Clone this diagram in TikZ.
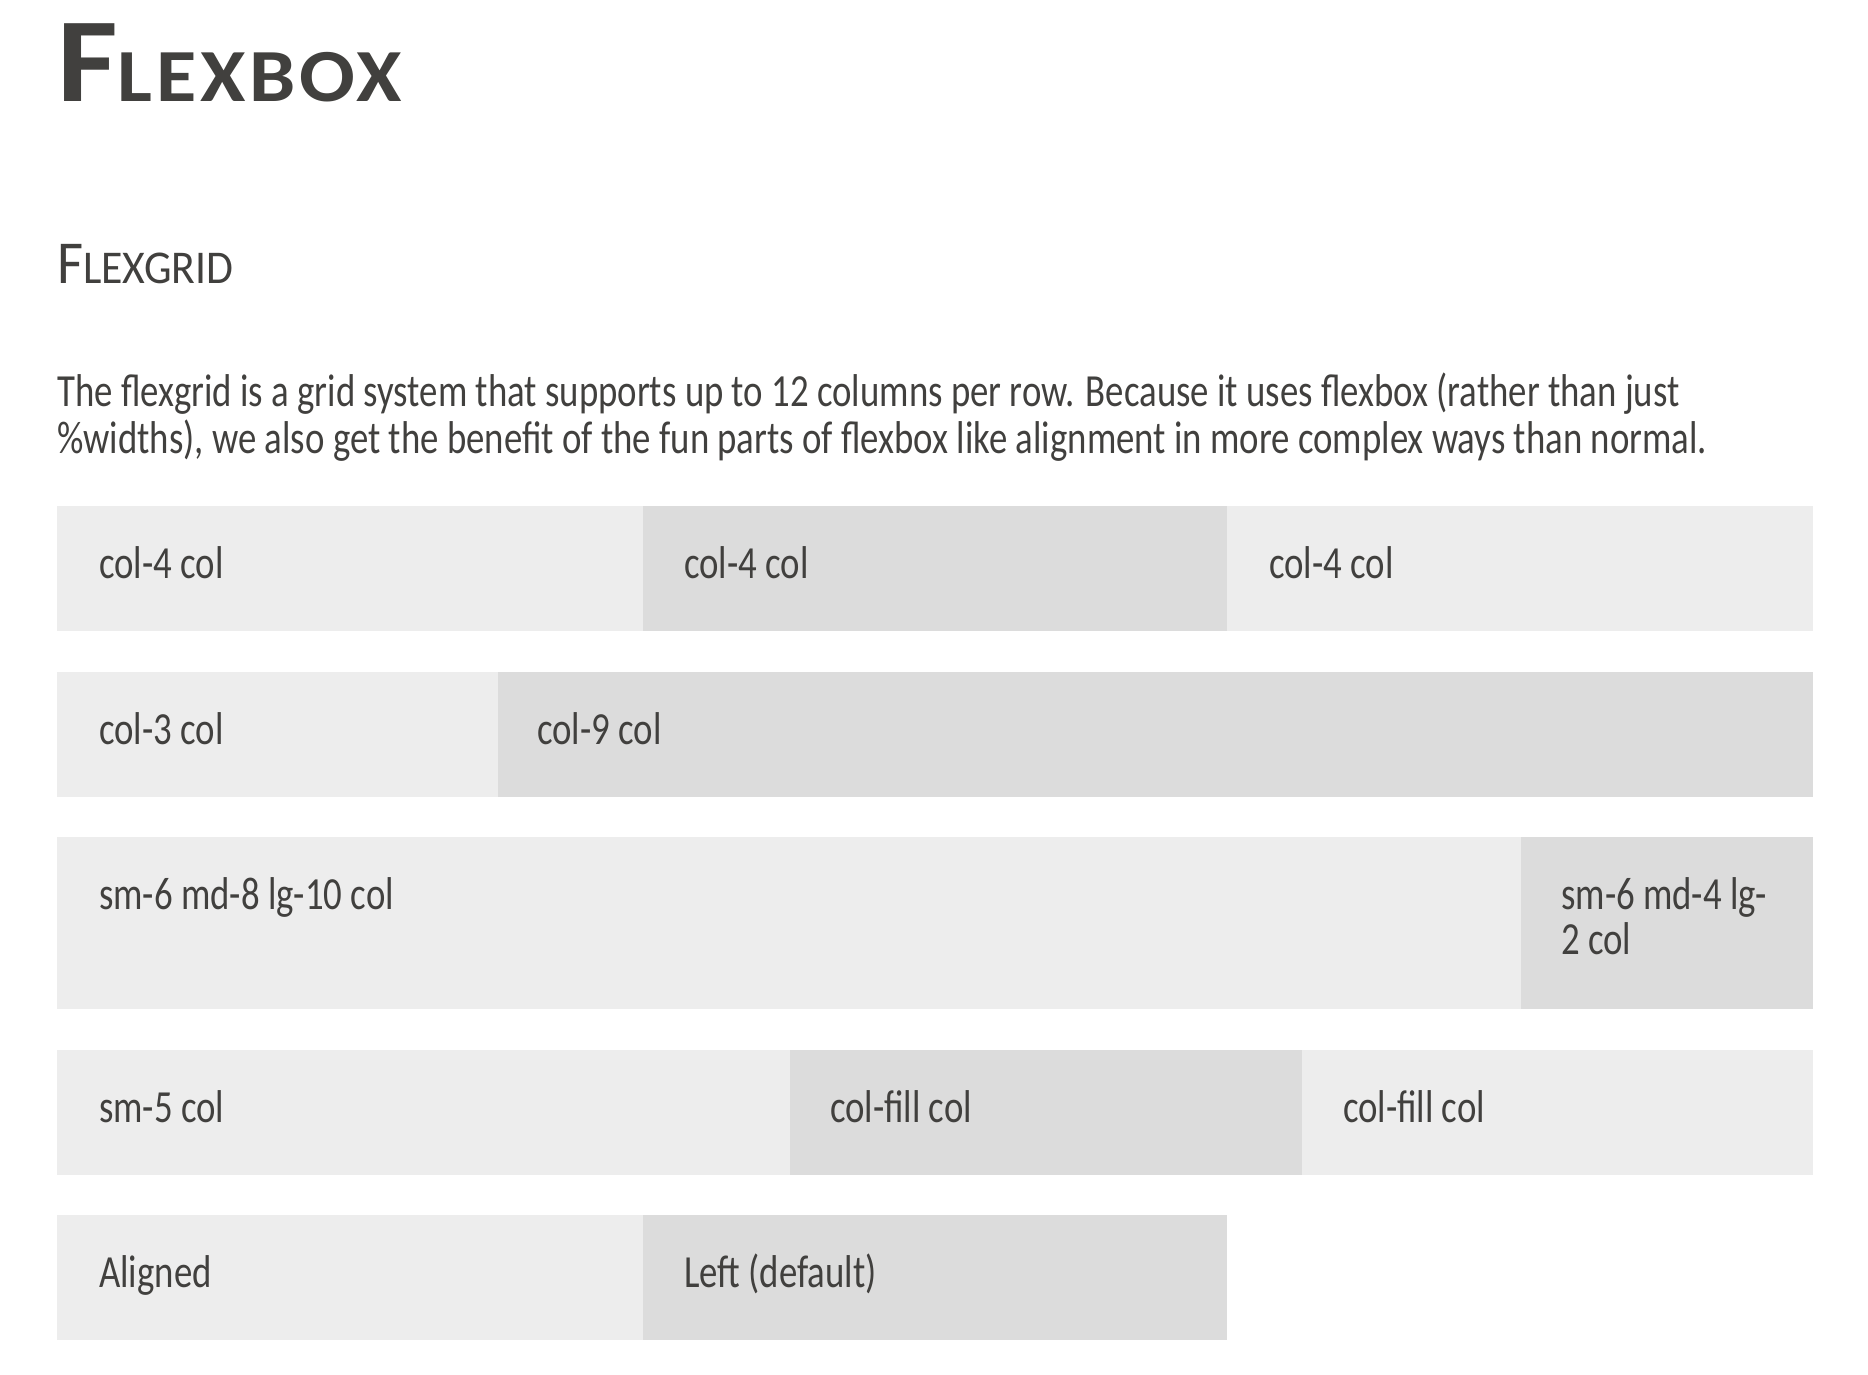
\documentclass[tikz,border=0pt]{standalone}
\usepackage{fontspec}
\setmainfont{Carlito}[FakeStretch=0.8]
\newfontfamily\headfont{Carlito}[FakeStretch=1.1,LetterSpace=5]
\newfontfamily\subfont{Carlito}[FakeStretch=0.93]
\usetikzlibrary{positioning}
\definecolor{ink}{HTML}{41403E}
\definecolor{cellA}{HTML}{EDEDED}
\definecolor{cellB}{HTML}{DCDCDC}

\begin{document}
\begin{tikzpicture}[x=1pt,y=-1pt,
    txt/.style={anchor=base west,inner sep=0pt,text=ink,font=\fontsize{46}{45}\selectfont}]
    \useasboundingbox (0,0) rectangle (1868,1374);

    % headings
    \node[anchor=base west,inner sep=0pt,text=ink,font=\headfont\bfseries] (title) at (57,101)
        {\fontsize{120}{120}\selectfont F\fontsize{75}{75}\selectfont LEXBOX};
    \node[anchor=base west,inner sep=0pt,text=ink,font=\subfont] (sub) at (57,283)
        {\fontsize{61}{61}\selectfont F\fontsize{47}{47}\selectfont LEXGRID};
    \node[txt] (p1) at (57,406) {The flexgrid is a grid system that supports up to 12 columns per row. Because it uses flexbox (rather than just};
    \node[txt] (p2) at (57,453) {\%widths), we also get the benefit of the fun parts of flexbox like alignment in more complex ways than normal.};

    % row 1
    \fill[cellA] (57,506) rectangle (643,631);
    \fill[cellB] (643,506) rectangle (1227,631);
    \fill[cellA] (1227,506) rectangle (1813,631);
    \node[txt] (a1) at (99,578) {col-4 col};
    \node[txt] (a2) at (684,578) {col-4 col};
    \node[txt] (a3) at (1269,578) {col-4 col};

    % row 2
    \fill[cellA] (57,672) rectangle (498,797);
    \fill[cellB] (498,672) rectangle (1813,797);
    \node[txt] (b1) at (99,744) {col-3 col};
    \node[txt] (b2) at (537,744) {col-9 col};

    % row 3
    \fill[cellA] (57,837) rectangle (1521,1009);
    \fill[cellB] (1521,837) rectangle (1813,1009);
    \node[txt] (c1) at (99,909) {sm-6 md-8 lg-10 col};
    \node[txt] (c2) at (1561,909) {sm-6 md-4 lg-};
    \node[txt] (c3) at (1561,954) {2 col};

    % row 4
    \fill[cellA] (57,1050) rectangle (790,1175);
    \fill[cellB] (790,1050) rectangle (1302,1175);
    \fill[cellA] (1302,1050) rectangle (1813,1175);
    \node[txt] (d1) at (99,1122) {sm-5 col};
    \node[txt] (d2) at (830,1122) {col-fill col};
    \node[txt] (d3) at (1343,1122) {col-fill col};

    % row 5
    \fill[cellA] (57,1215) rectangle (643,1340);
    \fill[cellB] (643,1215) rectangle (1227,1340);
    \node[txt] (e1) at (99,1287) {Aligned};
    \node[txt] (e2) at (684,1287) {Left (default)};
\end{tikzpicture}
\end{document}
